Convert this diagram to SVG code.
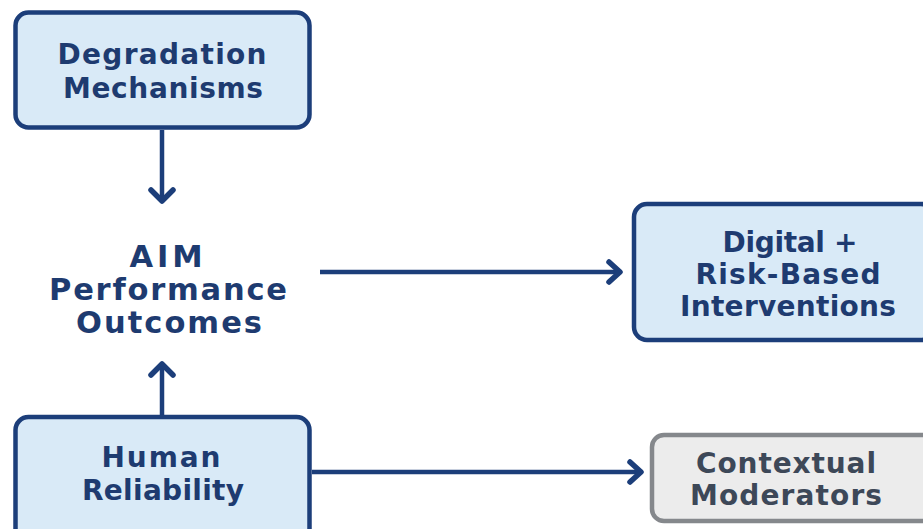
<svg xmlns="http://www.w3.org/2000/svg" width="923" height="529" viewBox="0 0 923 529">
  <style>
    .box { fill: #d9eaf7; stroke: #1c3e7a; stroke-width: 4.5; }
    .box-muted { fill: #ececec; stroke: #85888c; stroke-width: 4.5; }
    .label { font-family: "DejaVu Sans", "Open Sans", sans-serif; font-weight: 700; font-size: 28px; fill: #1e3b70; text-anchor: middle; }
    .label-lg { font-size: 30.5px; }
    .label-muted { fill: #3d4858; }
    .link { fill: none; stroke: #1c3e7a; stroke-width: 4.5; }
    .head { fill: none; stroke: #1c3e7a; stroke-width: 5.5; stroke-linecap: round; stroke-linejoin: round; }
  </style>
  <rect width="923" height="529" fill="#ffffff"/>

  <g id="connectors">
    <!-- Degradation -> AIM -->
    <line class="link" x1="162" y1="130" x2="162" y2="200"/>
    <polyline class="head" points="151,190 162,201 173,190"/>
    <!-- Human -> AIM -->
    <line class="link" x1="162" y1="415" x2="162" y2="365"/>
    <polyline class="head" points="151,375 162,364 173,375"/>
    <!-- AIM -> Interventions -->
    <line class="link" x1="320" y1="272" x2="619" y2="272"/>
    <polyline class="head" points="609,262 620,272 609,282"/>
    <!-- Human -> Contextual -->
    <line class="link" x1="312" y1="472" x2="640" y2="472"/>
    <polyline class="head" points="630,462 641,472 630,482"/>
  </g>

  <g id="degradation">
    <rect class="box" x="15.5" y="12.5" width="294" height="115" rx="13"/>
    <text class="label" x="162" y="64" textLength="209" lengthAdjust="spacing">Degradation</text>
    <text class="label" x="163" y="98" textLength="200" lengthAdjust="spacing">Mechanisms</text>
  </g>

  <g id="aim">
    <text class="label label-lg" x="166" y="267" textLength="73" lengthAdjust="spacing">AIM</text>
    <text class="label label-lg" x="168" y="300" textLength="238" lengthAdjust="spacing">Performance</text>
    <text class="label label-lg" x="169" y="333" textLength="186" lengthAdjust="spacing">Outcomes</text>
  </g>

  <g id="interventions">
    <rect class="box" x="634" y="204" width="300" height="136" rx="13"/>
    <text class="label" x="790" y="252" textLength="135" lengthAdjust="spacing">Digital +</text>
    <text class="label" x="788" y="284" textLength="185" lengthAdjust="spacing">Risk-Based</text>
    <text class="label" x="788" y="316" textLength="216" lengthAdjust="spacing">Interventions</text>
  </g>

  <g id="human">
    <rect class="box" x="15.5" y="417" width="294" height="130" rx="13"/>
    <text class="label" x="161" y="467" textLength="119" lengthAdjust="spacing">Human</text>
    <text class="label" x="163" y="500" textLength="162" lengthAdjust="spacing">Reliability</text>
  </g>

  <g id="contextual">
    <rect class="box-muted" x="652" y="435" width="282" height="86" rx="12"/>
    <text class="label label-muted" x="786" y="473" textLength="180" lengthAdjust="spacing">Contextual</text>
    <text class="label label-muted" x="786" y="505" textLength="192" lengthAdjust="spacing">Moderators</text>
  </g>
</svg>
